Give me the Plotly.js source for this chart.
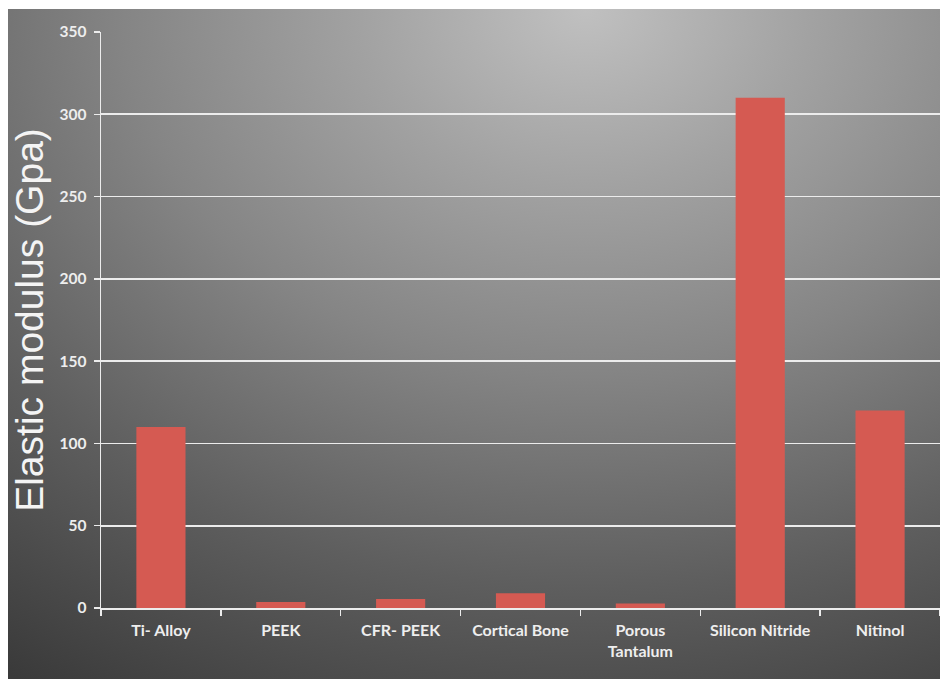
<!DOCTYPE html>
<html>
<head>
<meta charset="utf-8">
<script src="https://cdn.plot.ly/plotly-3.0.1.min.js"></script>
<style>
  html, body { margin: 0; padding: 0; background: #ffffff; }
  #wrap { position: relative; width: 940px; height: 679px; overflow: hidden; }
  #bg { position: absolute; left: 8px; top: 9px; width: 932px; height: 670px;
        background: radial-gradient(ellipse 110% 120% at 62% 0%, #c0c0c0 0%, #a2a2a2 22%, #858585 45%, #5e5e5e 72%, #3a3a3a 100%); }
  #chart { position: absolute; left: 0; top: 0; width: 940px; height: 679px; }
</style>
</head>
<body>
<div id="wrap">
  <div id="bg"></div>
  <div id="chart"></div>
</div>
<script>
const categories = ["Ti- Alloy", "PEEK", "CFR- PEEK", "Cortical Bone", "Porous<br>Tantalum", "Silicon Nitride", "Nitinol"];
const modulusGpa = [110, 3.6, 5.5, 9, 2.8, 310, 120];
const yTicks = [0, 50, 100, 150, 200, 250, 300, 350];

const trace = {
  type: "bar",
  x: categories,
  y: modulusGpa,
  marker: { color: "#d55a52", line: { width: 0 } },
  hoverinfo: "x+y"
};

const layout = {
  width: 940,
  height: 679,
  margin: { l: 101, r: 0, t: 32, b: 71, pad: 0 },
  paper_bgcolor: "rgba(0,0,0,0)",
  plot_bgcolor: "rgba(0,0,0,0)",
  showlegend: false,
  bargap: 0.59,
  xaxis: {
    type: "category",
    tickson: "boundaries",
    ticks: "outside",
    ticklen: 6,
    tickwidth: 1.5,
    tickcolor: "#ececec",
    showline: true,
    linecolor: "#ececec",
    linewidth: 2,
    showgrid: false,
    tickfont: { family: "Lato, 'DejaVu Sans', sans-serif", size: 16, color: "#eeeeee", weight: "bold" },
    ticklabelstandoff: 7,
    fixedrange: true
  },
  yaxis: {
    range: [0, 350],
    tickvals: yTicks,
    ticktext: yTicks.map(String),
    ticks: "outside",
    ticklen: 6,
    tickwidth: 1.5,
    tickcolor: "#ececec",
    showline: true,
    linecolor: "#ececec",
    linewidth: 1.5,
    showgrid: true,
    gridcolor: "#ececec",
    gridwidth: 1.8,
    zeroline: false,
    tickfont: { family: "Lato, 'DejaVu Sans', sans-serif", size: 15.5, color: "#eeeeee", weight: "bold" },
    ticklabelstandoff: 4,
    title: {
      text: "Elastic modulus (Gpa)",
      font: { family: "'Liberation Sans', Arial, sans-serif", size: 39, color: "#f4f4f4" },
      standoff: 4
    },
    fixedrange: true
  }
};

Plotly.newPlot("chart", [trace], layout, { displayModeBar: false, staticPlot: true });
</script>
</body>
</html>
